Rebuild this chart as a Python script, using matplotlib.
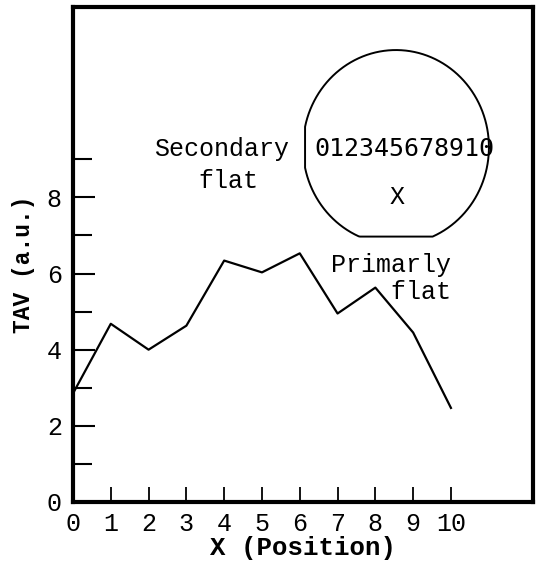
import numpy as np
import matplotlib
matplotlib.use("Agg")
import matplotlib.pyplot as plt

# TAV measured along the wafer diameter
positions = [0, 1, 2, 3, 4, 5, 6, 7, 8, 9, 10]
tav = [2.85, 4.68, 4.0, 4.63, 6.34, 6.03, 6.53, 4.95, 5.63, 4.45, 2.47]

x_ticks = list(range(11))
y_major = [0, 2, 4, 6, 8]
y_minor = [1, 3, 5, 7, 9]

# wafer sketch (data units): slightly tall circle with two flats
wafer_center = (8.545, 9.316)
wafer_rx = 2.46
wafer_ry = 2.553
secondary_flat_x = 6.14
primary_flat_y = 6.97
wafer_labels = "012345678910"

mono = "Liberation Mono"


def main():
    fig = plt.figure(figsize=(5.39, 5.72), dpi=100)
    ax = fig.add_axes([0.1354, 0.1224, 0.8534, 0.8654])

    ax.plot(positions, tav, color="black", lw=1.6, clip_on=False)

    # wafer outline
    t = np.linspace(0, 2 * np.pi, 400)
    wx = wafer_center[0] + wafer_rx * np.cos(t)
    wy = wafer_center[1] + wafer_ry * np.sin(t)
    wx = np.clip(wx, secondary_flat_x, None)
    wy = np.clip(wy, primary_flat_y, None)
    ax.plot(wx, wy, color="black", lw=1.4)

    ax.text(8.78, 9.26, wafer_labels, family="DejaVu Sans Mono", fontsize=18,
            ha="center", va="center")
    ax.text(8.57, 8.0, "X", family=mono, fontsize=18, ha="center", va="center")
    ax.text(3.93, 9.26, "Secondary", family=mono, fontsize=18,
            ha="center", va="center")
    ax.text(4.1, 8.42, "flat", family=mono, fontsize=18,
            ha="center", va="center")
    ax.text(10.0, 5.87, "Primarly\n  flat", family=mono, fontsize=18,
            ha="right", va="center", linespacing=1.15)

    ax.set_xlim(0, 12.17)
    ax.set_ylim(0, 13.0)
    ax.set_xticks(x_ticks)
    ax.set_xticklabels([str(v) for v in x_ticks], family=mono, fontsize=18)
    ax.set_yticks(y_major)
    ax.set_yticklabels([str(v) for v in y_major], family=mono, fontsize=18)
    ax.set_yticks(y_minor, minor=True)

    ax.tick_params(axis="x", direction="in", length=11, width=1.3, pad=7)
    ax.tick_params(axis="y", which="major", direction="in", length=16,
                   width=1.5, pad=8)
    ax.tick_params(axis="y", which="minor", direction="in", length=14,
                   width=1.5)
    for s in ax.spines.values():
        s.set_linewidth(3)

    ax.set_xlabel("X (Position)", family=mono, fontsize=18.5,
                  fontweight="bold", labelpad=0)
    ax.set_ylabel("TAV (a.u.)", family=mono, fontsize=16.5,
                  fontweight="bold")
    ax.yaxis.set_label_coords(-0.083, 0.48)

    fig.savefig("out.png", dpi=100)


if __name__ == "__main__":
    main()
